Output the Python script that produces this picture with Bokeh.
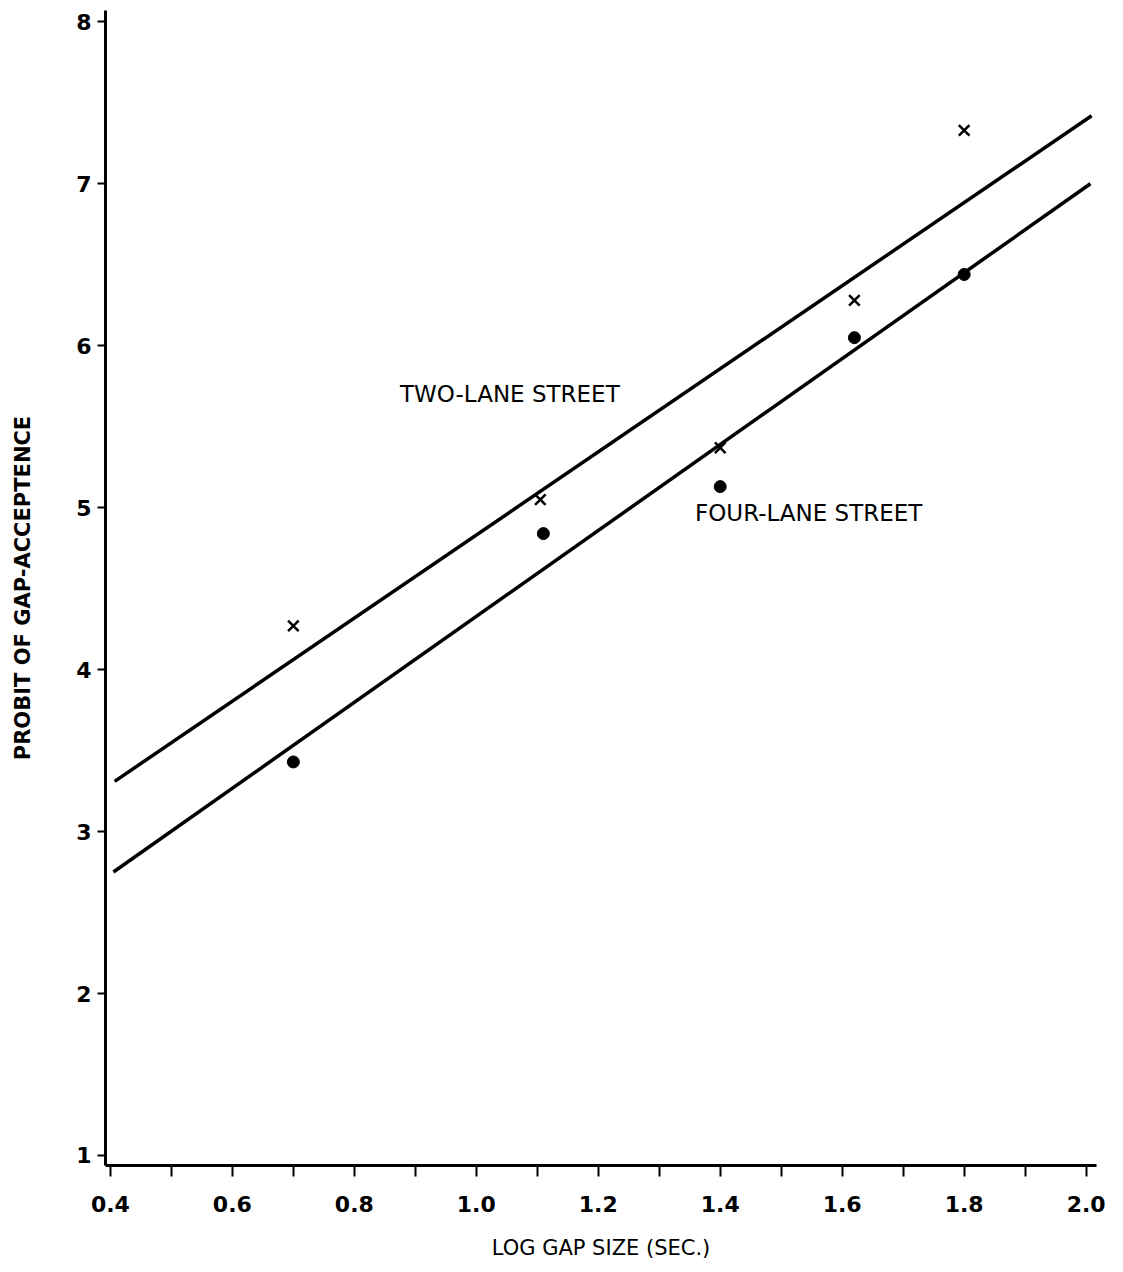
from bokeh.plotting import figure
from bokeh.models import FixedTicker, Label
from bokeh.embed import file_html
from bokeh.resources import INLINE

# Data
two_lane_x = [0.70, 1.105, 1.40, 1.62, 1.80]
two_lane_y = [4.27, 5.05, 5.37, 6.28, 7.33]
four_lane_x = [0.70, 1.11, 1.40, 1.62, 1.80]
four_lane_y = [3.43, 4.84, 5.13, 6.05, 6.44]

two_fit_x = [0.407, 2.009]
two_fit_y = [3.31, 7.42]
four_fit_x = [0.405, 2.007]
four_fit_y = [2.75, 7.00]

x_major = [0.4, 0.6, 0.8, 1.0, 1.2, 1.4, 1.6, 1.8, 2.0]
x_minor = [0.5, 0.7, 0.9, 1.1, 1.3, 1.5, 1.7, 1.9]
x_labels = {0.4: "0.4", 0.6: "0.6", 0.8: "0.8", 1.0: "1.0", 1.2: "1.2",
            1.4: "1.4", 1.6: "1.6", 1.8: "1.8", 2.0: "2.0"}
y_ticks = [1, 2, 3, 4, 5, 6, 7, 8]

FONT = "DejaVu Sans"

p = figure(width=1113, height=1262, x_range=(0.392, 2.017), y_range=(0.938, 8.07),
           output_backend="svg", toolbar_location=None,
           min_border_left=105, min_border_right=17, min_border_top=10, min_border_bottom=92)
p.outline_line_color = None
p.xgrid.grid_line_color = None
p.ygrid.grid_line_color = None
p.background_fill_color = "white"
p.border_fill_color = "white"

# axes
p.xaxis.ticker = FixedTicker(ticks=x_major, minor_ticks=x_minor)
p.xaxis.major_label_overrides = x_labels
p.xaxis.axis_line_width = 3
p.xaxis.axis_line_color = "black"
p.xaxis.major_tick_line_width = 2
p.xaxis.minor_tick_line_width = 2
p.xaxis.major_tick_in = 0
p.xaxis.major_tick_out = 11
p.xaxis.minor_tick_in = 0
p.xaxis.minor_tick_out = 11
p.xaxis.major_label_standoff = 19
p.xaxis.major_label_text_font = FONT
p.xaxis.major_label_text_font_size = "22px"
p.xaxis.major_label_text_font_style = "bold"
p.xaxis.major_label_text_color = "black"
p.xaxis.axis_label = "LOG GAP SIZE (SEC.)"
p.xaxis.axis_label_text_font = FONT
p.xaxis.axis_label_text_font_size = "21px"
p.xaxis.axis_label_text_font_style = "normal"
p.xaxis.axis_label_text_color = "black"
p.xaxis.axis_label_standoff = 21

p.yaxis.ticker = FixedTicker(ticks=y_ticks, minor_ticks=[])
p.yaxis.axis_line_width = 3
p.yaxis.axis_line_color = "black"
p.yaxis.major_tick_line_width = 2
p.yaxis.major_tick_in = 0
p.yaxis.major_tick_out = 8
p.yaxis.minor_tick_out = 0
p.yaxis.minor_tick_in = 0
p.yaxis.major_label_standoff = 6
p.yaxis.major_label_text_font = FONT
p.yaxis.major_label_text_font_size = "22px"
p.yaxis.major_label_text_font_style = "bold"
p.yaxis.major_label_text_color = "black"
p.yaxis.axis_label = "PROBIT OF GAP-ACCEPTENCE"
p.yaxis.axis_label_text_font = FONT
p.yaxis.axis_label_text_font_size = "21px"
p.yaxis.axis_label_text_font_style = "bold"
p.yaxis.axis_label_text_color = "black"
p.yaxis.axis_label_standoff = 38

# fitted lines
p.line(two_fit_x, two_fit_y, line_color="black", line_width=3.5)
p.line(four_fit_x, four_fit_y, line_color="black", line_width=3.5)

# observations
p.scatter(two_lane_x, two_lane_y, marker="x", size=15, line_color="black", line_width=2.5)
p.scatter(four_lane_x, four_lane_y, marker="circle", size=12, fill_color="black", line_color="black")

# annotations
p.add_layout(Label(x=1.055, y=5.70, text="TWO-LANE STREET", text_font=FONT,
                   text_font_size="23px", text_align="center", text_baseline="middle",
                   text_color="black"))
p.add_layout(Label(x=1.545, y=4.97, text="FOUR-LANE STREET", text_font=FONT,
                   text_font_size="23px", text_align="center", text_baseline="middle",
                   text_color="black"))

open("out.html", "w").write(file_html(p, INLINE))
